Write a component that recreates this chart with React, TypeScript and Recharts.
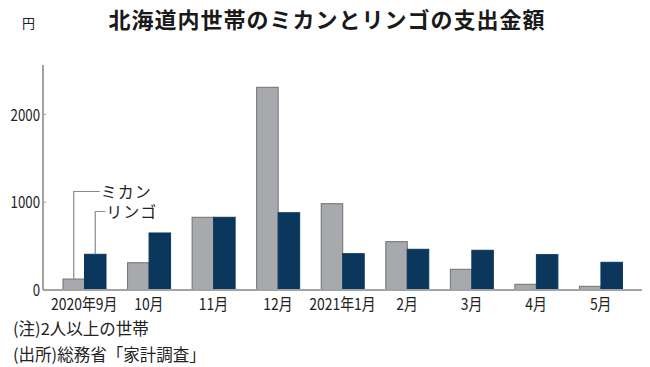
import React from "react";
import { BarChart, Bar, XAxis, YAxis } from "recharts";

const categories = ["2020年9月", "10月", "11月", "12月", "2021年1月", "2月", "3月", "4月", "5月"];
const mikan = [125, 311, 829, 2311, 984, 551, 236, 65, 42];
const ringo = [407, 650, 829, 881, 414, 464, 453, 403, 316];
const yTicks = [0, 1000, 2000];
const seriesNames = { mikan: "ミカン", ringo: "リンゴ" };

const data = categories.map((c, i) => ({ month: c, mikan: mikan[i], ringo: ringo[i] }));

const CJK_FONT = "'Noto Sans CJK JP', sans-serif";
const AXIS_COLOR = "#a3a3a3";
const GRAY = "#a7a9ac";
const GRAY_STROKE = "#707173";
const NAVY = "#0c375c";
const LEADER = "#8a8a8a";

const XTick = (props: any) => {
  const { x, y, payload } = props;
  return (
    <text
      transform={`translate(${x},${y + 20}) scale(0.87,1)`}
      textAnchor="middle"
      fill="#222"
      fontSize={16}
      fontFamily={CJK_FONT}
    >
      {payload.value}
    </text>
  );
};

const YTick = (props: any) => {
  const { x, y, payload } = props;
  return (
    <g>
      <text
        transform={`translate(${x},${y + 6}) scale(0.83,1)`}
        textAnchor="end"
        fill="#222"
        fontSize={16}
        fontFamily={CJK_FONT}
      >
        {payload.value}
      </text>
      {payload.value !== 0 && (
        <line x1={x + 3} x2={x + 6} y1={y} y2={y} stroke={AXIS_COLOR} strokeWidth={1} />
      )}
    </g>
  );
};

const makeShape = (labelText: string, labelY: number, elbowX: number) => (props: any) => {
  const { x, y, width, height, fill, stroke, index } = props;
  const cx = x + width / 2;
  return (
    <g>
      <rect x={x} y={y} width={width} height={height} fill={fill} stroke={stroke} strokeWidth={1} />
      {index === 0 && (
        <g>
          <polyline
            points={`${cx},${y} ${cx},${labelY} ${cx + elbowX},${labelY}`}
            fill="none"
            stroke={LEADER}
            strokeWidth={1.2}
          />
          <text
            x={cx + elbowX + 1}
            y={labelY + 6}
            fontSize={16}
            letterSpacing={1}
            fill="#222"
            fontFamily={CJK_FONT}
          >
            {labelText}
          </text>
        </g>
      )}
    </g>
  );
};

const MikanShape = makeShape(seriesNames.mikan, 191.5, 26);
const RingoShape = makeShape(seriesNames.ringo, 211.5, 10);

const noteStyle: React.CSSProperties = {
  position: "absolute",
  left: 13,
  fontFamily: CJK_FONT,
  fontSize: 16.5,
  lineHeight: "17px",
  color: "#222",
  whiteSpace: "nowrap",
};

export default function App() {
  return (
    <div
      style={{
        position: "absolute",
        left: 0,
        top: 0,
        width: 650,
        height: 367,
        background: "#fff",
        overflow: "hidden",
      }}
    >
      <div
        style={{
          position: "absolute",
          left: 0,
          width: 650,
          top: 6,
          textAlign: "center",
          fontFamily: CJK_FONT,
          fontWeight: 700,
          fontSize: 22,
          lineHeight: "24px",
          letterSpacing: 1,
          color: "#1a1a1a",
          paddingLeft: 2,
        }}
      >
        北海道内世帯のミカンとリンゴの支出金額
      </div>
      <div
        style={{
          position: "absolute",
          left: 22,
          top: 16,
          fontFamily: CJK_FONT,
          fontSize: 13,
          lineHeight: "14px",
          color: "#222",
        }}
      >
        円
      </div>
      <div style={{ position: "absolute", left: 0, top: 0 }}>
        <BarChart
          width={650}
          height={367}
          data={data}
          margin={{ top: 65, right: 8, bottom: 47, left: 0 }}
          barGap={0}
          barSize={21.5}
        >
          <XAxis
            dataKey="month"
            height={30}
            padding={{ left: 9, right: 9 }}
            axisLine={{ stroke: AXIS_COLOR, strokeWidth: 2 }}
            tickLine={false}
            tickSize={0}
            tickMargin={0}
            interval={0}
            tick={<XTick />}
          />
          <YAxis
            width={43}
            domain={[0, 2565]}
            ticks={yTicks}
            allowDataOverflow
            axisLine={{ stroke: AXIS_COLOR, strokeWidth: 2 }}
            tickLine={false}
            tickSize={0}
            tickMargin={3}
            tick={<YTick />}
          />
          <Bar dataKey="mikan" fill={GRAY} stroke={GRAY_STROKE} isAnimationActive={false} shape={MikanShape} />
          <Bar dataKey="ringo" fill={NAVY} stroke={NAVY} isAnimationActive={false} shape={RingoShape} />
        </BarChart>
      </div>
      <div style={{ ...noteStyle, top: 320 }}>(注)2人以上の世帯</div>
      <div style={{ ...noteStyle, top: 346 }}>(出所)総務省「家計調査」</div>
    </div>
  );
}
